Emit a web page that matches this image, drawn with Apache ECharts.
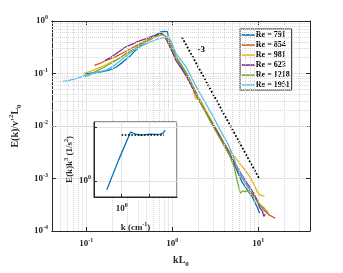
<!DOCTYPE html>
<html><head><meta charset="utf-8">
<script src="https://cdn.jsdelivr.net/npm/echarts@6/dist/echarts.min.js"></script>
<style>html,body{margin:0;padding:0;background:#fff}#c{width:343px;height:273px}</style>
</head><body><div id="c"></div>
<script>
const seriesNames = ['Re = 791','Re = 854','Re = 981','Re = 623','Re = 1218','Re = 1951'];
const colors = ['#0072BD','#D95319','#EDB120','#7E2F8E','#77AC30','#4DBEEE'];

const k791 = [0.096,0.12,0.15,0.185,0.22,0.265,0.32,0.37,0.44,0.52,0.6,0.68,0.74,0.8,0.88,0.925,1.0,1.1,1.25,1.48,1.8,2.3,3.0,3.6,4.4,5.3,6.5,7.5,8.5,9.6,10.4];
const e791 = [0.098,0.103,0.108,0.116,0.13,0.163,0.21,0.27,0.34,0.42,0.5,0.57,0.62,0.635,0.63,0.43,0.3,0.21,0.145,0.095,0.048,0.022,0.0105,0.0062,0.0034,0.0018,0.00085,0.0006,0.00045,0.0003,0.00022];

const k854 = [0.125,0.15,0.17,0.21,0.26,0.32,0.4,0.48,0.56,0.63,0.71,0.77,0.82,0.87,0.93,1.0,1.1,1.25,1.48,1.75,2.1,2.6,3.2,3.9,4.7,5.6,6.7,8.0,9.2,10.5,11.7,13.5,15.8];
const e854 = [0.143,0.16,0.177,0.2,0.24,0.29,0.35,0.41,0.47,0.51,0.55,0.56,0.52,0.45,0.37,0.3,0.21,0.15,0.1,0.057,0.031,0.0155,0.0083,0.0046,0.0027,0.0016,0.00095,0.0006,0.00043,0.00031,0.00025,0.0002,0.000175];

const k981 = [0.094,0.12,0.16,0.22,0.29,0.37,0.48,0.6,0.68,0.75,0.8,0.86,0.95,1.1,1.3,1.5,1.7,1.87,1.95,2.1,2.4,3.0,3.6,4.4,5.3,6.5,7.4,8.2,9.0,9.8,10.5,11.8];
const e981 = [0.1,0.115,0.14,0.18,0.23,0.29,0.38,0.47,0.53,0.56,0.55,0.5,0.38,0.22,0.14,0.095,0.06,0.033,0.034,0.033,0.022,0.011,0.0066,0.0037,0.0026,0.0017,0.0013,0.001,0.00075,0.00055,0.00048,0.00046];

const k623 = [0.166,0.2,0.24,0.287,0.34,0.4,0.48,0.56,0.63,0.7,0.76,0.81,0.87,0.93,1.0,1.1,1.3,1.48,1.7,2.0,2.3,2.6,3.0,3.4,4.0,4.4,5.3,6.5,7.4,8.45,9.5,10.4,11.2,11.6,12.1];
const e623 = [0.177,0.21,0.26,0.32,0.36,0.41,0.45,0.5,0.53,0.56,0.58,0.52,0.42,0.33,0.26,0.18,0.12,0.085,0.055,0.033,0.022,0.0155,0.0105,0.0075,0.0046,0.0036,0.002,0.00115,0.00082,0.00059,0.00042,0.00028,0.00024,0.00019,0.00021];

const k1218 = [0.096,0.11,0.13,0.16,0.2,0.25,0.29,0.37,0.48,0.6,0.71,0.78,0.85,0.92,1.0,1.1,1.3,1.48,1.8,2.3,2.8,3.4,4.0,4.6,5.28,5.7,6.2,6.6,7.0,7.5,8.0,8.45,9.0,9.6,10.3,10.95,11.8,12.5,13.1];
const e1218 = [0.086,0.095,0.11,0.13,0.16,0.2,0.24,0.3,0.4,0.48,0.54,0.55,0.5,0.42,0.31,0.21,0.14,0.1,0.05,0.022,0.012,0.0068,0.0044,0.0029,0.0016,0.0009,0.00052,0.00058,0.00056,0.00058,0.00054,0.0005,0.00043,0.00037,0.00033,0.0003,0.00027,0.00024,0.00022];

const k1951 = [0.053,0.065,0.08,0.094,0.12,0.15,0.17,0.21,0.25,0.287,0.34,0.4,0.483,0.56,0.626,0.7,0.78,0.86,0.92,0.97,1.05,1.11,1.3,1.48,1.87,2.3,2.98,3.55,4.41,5.0,5.71,6.5,7.4,8.45];
const e1951 = [0.07,0.075,0.082,0.09,0.1,0.11,0.116,0.14,0.175,0.21,0.26,0.31,0.36,0.4,0.43,0.46,0.48,0.49,0.47,0.41,0.3,0.24,0.17,0.126,0.059,0.0327,0.0153,0.0088,0.0047,0.003,0.0016,0.0011,0.00075,0.00055];

const refK = [1.3, 10.4];
const refE = [0.49, 0.00096];
const slopeLabel = '-3';
const slopeLabelPos = [2.18, 0.28];

const insetK = [0.29,0.78,2.1,2.47,3.16,4.8,7.0,10.9,16,24.7,31.6,37];
const insetE = [0.68,2.47,8.2,8.9,7.5,7.2,7.3,7.5,7.4,7.5,7.8,8.9];
const insetRefK = [1.0, 34];
const insetRefE = [7.2, 7.2];

const mainXRange = [0.04, 40];
const mainYRange = [1e-4, 1];
const insetXRange = [0.1, 100];
const insetYRange = [0.5, 12.6];

const kSeries = [k791,k854,k981,k623,k1218,k1951];
const eSeries = [e791,e854,e981,e623,e1218,e1951];

const zip = (a,b) => a.map((v,i)=>[v,b[i]]);
const FONT = 'Liberation Serif';
const rich = {
  b:{fontFamily:FONT,fontWeight:'bold',fontSize:9,color:'#262626'},
  s:{fontFamily:FONT,fontWeight:'bold',fontSize:6,color:'#262626',padding:[0,0,7,0]}
};
function powFmt(only){
  return function(v){
    const l = Math.log10(v); const e = Math.round(l);
    if (Math.abs(l-e) > 1e-6) return '';
    if (only && only.indexOf(e) < 0) return '';
    return '{b|10}{s|' + e + '}';
  };
}
const nameRich = {
  n:{fontFamily:FONT,fontWeight:'bold',fontSize:10,color:'#262626'},
  sup:{fontFamily:FONT,fontWeight:'bold',fontSize:7,color:'#262626',padding:[0,0,8,0]},
  sub:{fontFamily:FONT,fontWeight:'bold',fontSize:7,color:'#262626',padding:[8,0,0,0]}
};
const insetNameRich = {
  n:{fontFamily:FONT,fontWeight:'bold',fontSize:9,color:'#262626'},
  sup:{fontFamily:FONT,fontWeight:'bold',fontSize:6,color:'#262626',padding:[0,0,7,0]}
};

const minorX = [], minorY = [];
for (let n=-2;n<=1;n++) for (let m=2;m<=9;m++){const v=m*Math.pow(10,n); if(v>mainXRange[0]&&v<mainXRange[1]) minorX.push(+v.toPrecision(3));}
for (let n=-4;n<=-1;n++) for (let m=2;m<=9;m++){const v=m*Math.pow(10,n); if(v>mainYRange[0]&&v<mainYRange[1]) minorY.push(+v.toPrecision(3));}

const axisCol = '#262626';
function mainAxis(extra){
  return Object.assign({
    type:'log', logBase:10,
    axisLine:{show:true,onZero:false,lineStyle:{color:axisCol,width:1}},
    axisTick:{show:true,inside:true,length:4,lineStyle:{color:axisCol}},
    splitLine:{show:false}
  }, extra);
}

const series = [];
series.push({
  type:'line', xAxisIndex:0, yAxisIndex:0, data:[], silent:true, z:1, symbol:'none',
  markLine:{silent:true, symbol:['none','none'], label:{show:false}, animation:false,
    lineStyle:{type:'dotted',color:'#d6d6d6',width:1},
    data: minorX.map(v=>({xAxis:v})).concat(minorY.map(v=>({yAxis:v})))}
});
kSeries.forEach((ks,i)=>{
  series.push({name:seriesNames[i], type:'line', xAxisIndex:0, yAxisIndex:0, data:zip(ks,eSeries[i]),
    symbol:'none', showSymbol:false, smooth:false, z:3, lineStyle:{width:1.3,color:colors[i]}, itemStyle:{color:colors[i]}});
});
series.push({type:'line', xAxisIndex:0, yAxisIndex:0, data:zip(refK,refE), symbol:'none', z:4,
  lineStyle:{type:'dotted',color:'#000',width:1.8},
  markPoint:{symbol:'circle',symbolSize:0,data:[{coord:slopeLabelPos}],
    label:{show:true,formatter:slopeLabel,fontFamily:FONT,fontWeight:'bold',fontSize:9,color:'#000'}}});
series.push({type:'line', xAxisIndex:2, yAxisIndex:2, data:zip(insetK,insetE), symbol:'none', z:12,
  lineStyle:{width:1.3,color:colors[0]}});
series.push({type:'line', xAxisIndex:2, yAxisIndex:2, data:zip(insetRefK,insetRefE), symbol:'none', z:13,
  lineStyle:{type:'dotted',color:'#000',width:1.6}});

const option = {
  animation:false,
  backgroundColor:'#fff',
  grid:[
    {left:44, right:33, top:21, bottom:34, show:false},
    {left:94, top:122, width:83, height:75, show:true, backgroundColor:'#fff', borderColor:axisCol, borderWidth:1, z:10}
  ],
  legend:{
    data:seriesNames, orient:'vertical', left:240, top:29,
    itemWidth:13, itemHeight:8, itemGap:2,
    itemStyle:{opacity:0}, lineStyle:{width:1.6, type:'solid'},
    padding:[2,2,1,1], backgroundColor:'#fff', borderColor:axisCol, borderWidth:1,
    textStyle:{fontFamily:FONT,fontWeight:'bold',fontSize:8,lineHeight:8,color:'#000',padding:[0,0,0,-4]}
  },
  xAxis:[
    mainAxis({gridIndex:0, position:'bottom', min:mainXRange[0], max:mainXRange[1],
      axisLabel:{formatter:powFmt(),rich:rich,margin:6,showMinLabel:false,showMaxLabel:false},
      splitLine:{show:true,lineStyle:{color:'#e4e4e4',width:1}},
      name:'{n|kL}{sub|0}', nameLocation:'middle', nameGap:22, nameTextStyle:{rich:nameRich}}),
    mainAxis({gridIndex:0, position:'top', min:mainXRange[0], max:mainXRange[1], axisLabel:{show:false}}),
    {type:'log', logBase:10, gridIndex:1, min:insetXRange[0], max:insetXRange[1], z:11,
      axisLine:{show:true,onZero:false,lineStyle:{color:axisCol}},
      axisTick:{show:true,inside:true,length:3,lineStyle:{color:axisCol}},
      axisLabel:{formatter:powFmt([0,2]),rich:rich,margin:5,showMinLabel:false,showMaxLabel:false},
      splitLine:{show:true,lineStyle:{color:'#e4e4e4'}},
      name:'{n|k (cm}{sup|-1}{n|)}', nameLocation:'middle', nameGap:24, nameTextStyle:{rich:insetNameRich}}
  ],
  yAxis:[
    mainAxis({gridIndex:0, position:'left', min:mainYRange[0], max:mainYRange[1],
      axisLabel:{formatter:powFmt(),rich:rich,margin:4},
      splitLine:{show:true,lineStyle:{color:'#e4e4e4',width:1}},
      name:"{n|E(k)/v'}{sup|2}{n|L}{sub|0}", nameLocation:'middle', nameGap:28, nameRotate:90,
      nameTextStyle:{rich:nameRich}}),
    mainAxis({gridIndex:0, position:'right', min:mainYRange[0], max:mainYRange[1], axisLabel:{show:false}}),
    {type:'log', logBase:10, gridIndex:1, min:insetYRange[0], max:insetYRange[1], z:11,
      axisLine:{show:true,onZero:false,lineStyle:{color:axisCol}},
      axisTick:{show:true,inside:true,length:3,lineStyle:{color:axisCol}},
      axisLabel:{formatter:powFmt([0]),rich:rich,margin:3,showMinLabel:false,showMaxLabel:false},
      splitLine:{show:true,lineStyle:{color:'#e4e4e4'}},
      name:'{n|E(k)k}{sup|3}{n| (1/s}{sup|2}{n|)}', nameLocation:'middle', nameGap:18, nameRotate:90,
      nameTextStyle:{rich:insetNameRich}}
  ],
  series:series
};
const chart = echarts.init(document.getElementById('c'), null, {renderer:'canvas'});
chart.setOption(option);
</script></body></html>
